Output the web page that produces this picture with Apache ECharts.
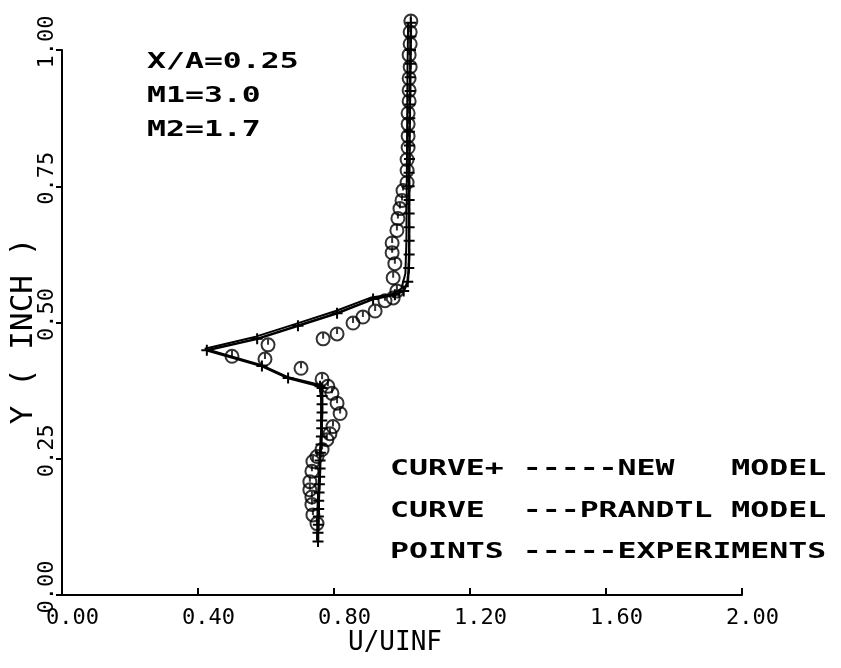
<!DOCTYPE html>
<html>
<head>
<meta charset="utf-8">
<script src="https://cdn.jsdelivr.net/npm/echarts@6/dist/echarts.min.js"></script>
<style>
  html, body { margin: 0; padding: 0; background: #fff; }
  #chart { width: 841px; height: 668px; }
</style>
</head>
<body>
<div id="chart"></div>
<script>
// Velocity profile U/UINF against height Y (inch)

const xTickLabels = ['0.00', '0.40', '0.80', '1.20', '1.60', '2.00'];
const yTickLabels = ['0.00', '0.25', '0.50', '0.75', '1.00'];

// New model (curve with + marks)
const newModelU = [1.026, 1.026, 1.025, 1.025, 1.024, 1.024, 1.023, 1.023, 1.022, 1.022,
  1.022, 1.021, 1.021, 1.021, 1.021, 1.021, 1.021, 1.021, 1.020, 1.017, 1.005,
  0.979, 0.915, 0.809, 0.694, 0.574, 0.426, 0.588, 0.665, 0.759,
  0.765, 0.765, 0.765, 0.765, 0.764, 0.764, 0.763, 0.762, 0.760, 0.759,
  0.759, 0.758, 0.757, 0.756, 0.755, 0.755, 0.754, 0.754, 0.753, 0.753];
const newModelY = [1.050, 1.025, 1.000, 0.975, 0.950, 0.925, 0.900, 0.875, 0.850, 0.825,
  0.800, 0.775, 0.750, 0.725, 0.700, 0.675, 0.650, 0.625, 0.600, 0.575, 0.558,
  0.551, 0.543, 0.517, 0.494, 0.470, 0.449, 0.420, 0.398, 0.383,
  0.380, 0.365, 0.350, 0.335, 0.320, 0.306, 0.291, 0.276, 0.261, 0.247,
  0.232, 0.217, 0.203, 0.188, 0.173, 0.158, 0.144, 0.129, 0.114, 0.098];

// Prandtl model (plain curve)
const prandtlU = [1.018, 1.016, 1.015, 1.014, 1.013, 1.010, 0.998, 0.972, 0.910, 0.805,
  0.690, 0.570, 0.420, 0.585, 0.663, 0.757, 0.762, 0.762, 0.758, 0.752, 0.750];
const prandtlY = [1.050, 0.950, 0.850, 0.750, 0.650, 0.590, 0.562, 0.552, 0.546, 0.521,
  0.498, 0.474, 0.452, 0.422, 0.400, 0.386, 0.360, 0.300, 0.240, 0.170, 0.100];

// Experiments (circle points)
const expU = [1.026, 1.024, 1.024, 1.021, 1.024, 1.021, 1.021, 1.021, 1.018, 1.018,
  1.018, 1.018, 1.015, 1.015, 1.015, 1.003, 1.000, 0.994, 0.988, 0.985,
  0.971, 0.971, 0.979, 0.974, 0.985, 0.974, 0.950, 0.921, 0.885, 0.856,
  0.809, 0.768, 0.606, 0.500, 0.597, 0.703, 0.765, 0.782, 0.794, 0.809,
  0.818, 0.797, 0.788, 0.779, 0.765, 0.750, 0.738, 0.735, 0.729, 0.729,
  0.735, 0.735, 0.738, 0.750];
const expY = [1.053, 1.033, 1.011, 0.991, 0.969, 0.948, 0.926, 0.906, 0.884, 0.864,
  0.842, 0.821, 0.799, 0.779, 0.757, 0.742, 0.724, 0.709, 0.691, 0.669,
  0.646, 0.628, 0.608, 0.582, 0.558, 0.545, 0.540, 0.521, 0.510, 0.499,
  0.479, 0.470, 0.459, 0.438, 0.433, 0.416, 0.396, 0.383, 0.370, 0.352,
  0.333, 0.309, 0.296, 0.285, 0.267, 0.254, 0.245, 0.227, 0.208, 0.193,
  0.180, 0.166, 0.147, 0.131];

const caseLines = ['X/A=0.25', 'M1=3.0', 'M2=1.7'];
const keyLines = ['CURVE+ -----NEW   MODEL', 'CURVE  ---PRANDTL MODEL', 'POINTS -----EXPERIMENTS'];

const pairs = (u, y) => u.map((v, i) => [v, y[i]]);

const FONT = '"DejaVu Sans Mono", "Liberation Mono", monospace';
const PLUS = 'path://M0 5L10 5M5 0L5 10';
const CIRCLE = 'path://M10 0A10 10 0 1 1 9.99 0ZM10 0L10 10';

const chart = echarts.init(document.getElementById('chart'), null, { renderer: 'canvas' });

// Plotter lettering is wide: monospace glyphs stretched horizontally
const textBlock = (lines, x, ys, scale) => lines.map((t, i) => ({
  type: 'text',
  x: x,
  y: ys[i],
  scaleX: scale,
  style: {
    text: t,
    font: 'bold 21px ' + FONT,
    fill: '#000',
    textAlign: 'left',
    textVerticalAlign: 'middle'
  }
}));

chart.setOption({
  animation: false,
  backgroundColor: '#fff',
  grid: { left: 62, right: 99, top: 50, bottom: 73, containLabel: false, outerBoundsMode: 'none' },
  xAxis: {
    type: 'value',
    min: 0, max: 2, interval: 0.4,
    name: 'U/UINF',
    nameLocation: 'middle',
    nameGap: 35,
    nameMoveOverlap: false,
    nameTextStyle: { color: '#000', fontFamily: FONT, fontSize: 26, padding: [0, 14, 0, 0] },
    axisLine: { show: true, lineStyle: { color: '#000', width: 2 } },
    axisTick: { show: true, inside: true, length: 7, lineStyle: { color: '#000', width: 2 } },
    splitLine: { show: false },
    axisLabel: {
      color: '#000', fontFamily: FONT, fontSize: 22, margin: 12,
      padding: [0, 0, 0, 21],
      formatter: (v) => xTickLabels[Math.round(v / 0.4)]
    }
  },
  yAxis: {
    type: 'value',
    min: 0, max: 1, interval: 0.25,
    name: 'Y ( INCH )',
    nameLocation: 'middle',
    nameRotate: 90,
    nameGap: 23,
    nameMoveOverlap: false,
    nameTextStyle: { color: '#000', fontFamily: FONT, fontSize: 31, padding: [0, 17, 0, 0] },
    axisLine: { show: true, lineStyle: { color: '#000', width: 2 } },
    axisTick: { show: true, inside: false, length: 6, lineStyle: { color: '#000', width: 2 } },
    splitLine: { show: false },
    axisLabel: {
      color: '#000', fontFamily: FONT, fontSize: 22, margin: 4, rotate: 90,
      padding: [0, 0, 0, 16],
      formatter: (v) => yTickLabels[Math.round(v / 0.25)]
    }
  },
  graphic: [
    ...textBlock(caseLines, 147, [63, 97, 131], 1.5),
    ...textBlock(keyLines, 390, [470, 512, 553], 1.5)
  ],
  series: [
    {
      name: 'PRANDTL MODEL',
      type: 'line',
      clip: false,
      data: pairs(prandtlU, prandtlY),
      showSymbol: false,
      lineStyle: { color: '#000', width: 2 }
    },
    {
      name: 'NEW MODEL',
      type: 'line',
      clip: false,
      data: pairs(newModelU, newModelY),
      symbol: PLUS,
      symbolSize: 11,
      itemStyle: { color: '#000', borderColor: '#000', borderWidth: 2 },
      lineStyle: { color: '#000', width: 2.5 }
    },
    {
      name: 'EXPERIMENTS',
      type: 'scatter',
      clip: false,
      data: pairs(expU, expY),
      symbol: CIRCLE,
      symbolSize: 13,
      itemStyle: { color: 'rgba(0,0,0,0)', borderColor: '#000', borderWidth: 2 }
    }
  ]
});
</script>
</body>
</html>
